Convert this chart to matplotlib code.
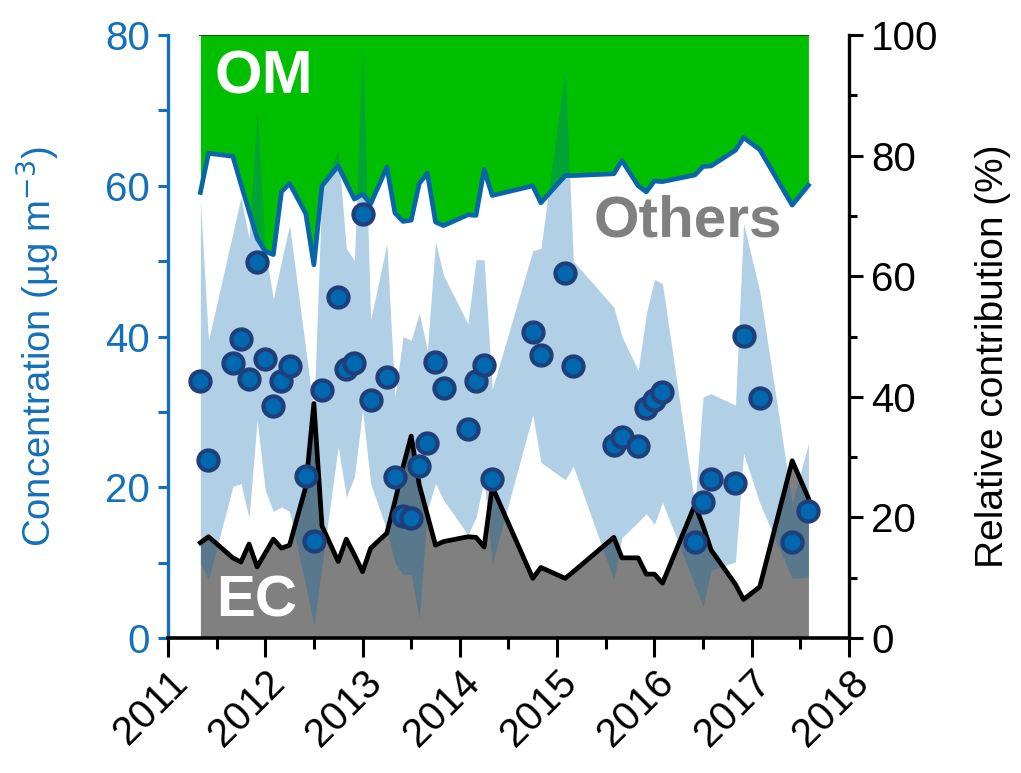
import matplotlib
matplotlib.use("Agg")
import matplotlib.pyplot as plt
from matplotlib.ticker import MultipleLocator
import numpy as np

plt.rcParams['font.family'] = ['Liberation Sans', 'DejaVu Sans']

# ---------------- data ----------------
dates = ["2011-05", "2011-06", "2011-09", "2011-10", "2011-11", "2011-12",
         "2012-01", "2012-02", "2012-03", "2012-04", "2012-06", "2012-07",
         "2012-08", "2012-10", "2012-11", "2012-12", "2013-01", "2013-02",
         "2013-04", "2013-05", "2013-06", "2013-07", "2013-08", "2013-09",
         "2013-10", "2013-11", "2014-02", "2014-03", "2014-04", "2014-05",
         "2014-10", "2014-11", "2015-02", "2015-03", "2015-08", "2015-09",
         "2015-11", "2015-12", "2016-01", "2016-02", "2016-06", "2016-07",
         "2016-08", "2016-11", "2016-12", "2017-02", "2017-06", "2017-08"]

conc_mean = [34.1, 23.6, 36.5, 39.7, 34.4, 49.9, 37.0, 30.8, 34.1, 36.1, 21.5, 12.9,
             32.9, 45.2, 35.7, 36.5, 56.3, 31.6, 34.6, 21.4, 16.2, 15.9, 22.8, 25.9,
             36.6, 33.2, 27.7, 34.1, 36.2, 21.1, 40.6, 37.5, 48.4, 36.1, 25.6, 26.7,
             25.5, 30.5, 31.6, 32.6, 12.7, 18.0, 21.1, 20.6, 40.1, 31.8, 12.7, 16.8]

conc_max = [58.0, 39.5, 53.7, 58.5, 53.0, 70.0, 51.5, 45.0, 50.0, 54.8, 38.3, 30.0,
            59.9, 64.7, 51.7, 50.1, 79.3, 42.2, 52.3, 32.0, 40.0, 39.5, 43.1, 38.2,
            52.6, 48.1, 41.7, 50.2, 50.2, 33.0, 51.4, 51.7, 75.5, 50.0, 43.9, 40.0,
            35.5, 43.0, 47.6, 47.0, 17.6, 32.0, 32.4, 30.9, 55.0, 46.0, 17.9, 25.8]

conc_min = [10.0, 7.7, 20.1, 20.5, 15.9, 28.9, 19.6, 16.8, 17.4, 16.8, 6.9, 1.7,
            9.6, 25.4, 18.7, 21.4, 30.2, 20.5, 14.3, 10.0, 8.4, 8.4, 2.5, 17.0,
            20.5, 18.3, 13.7, 16.0, 21.0, 9.8, 29.6, 23.3, 21.0, 22.8, 7.7, 13.3,
            15.4, 16.5, 15.1, 18.0, 7.0, 4.2, 9.0, 10.1, 24.5, 17.9, 7.9, 8.1]

ec_pct = [15.8, 16.8, 13.3, 12.6, 15.6, 11.8, 14.1, 16.4, 14.9, 15.4, 25.1, 38.9,
          18.6, 12.7, 16.4, 13.8, 11.0, 14.9, 17.4, 22.7, 28.4, 33.5, 25.4, 20.4,
          15.4, 16.0, 16.8, 16.7, 15.1, 25.1, 9.9, 11.7, 9.9, 11.0, 16.7, 13.3,
          13.3, 10.6, 10.6, 9.1, 22.1, 18.6, 14.6, 8.9, 6.4, 8.5, 29.4, 23.2]

om_pct = [26.1, 19.6, 20.1, 24.7, 29.2, 33.7, 35.9, 36.4, 26.0, 24.6, 29.6, 38.1,
          25.0, 21.7, 24.5, 27.2, 26.4, 28.0, 21.9, 29.5, 30.9, 30.7, 24.6, 22.9,
          31.0, 31.6, 29.8, 29.9, 22.3, 26.6, 25.0, 27.8, 23.3, 23.3, 23.0, 20.8,
          25.0, 26.0, 24.2, 24.3, 23.2, 21.8, 21.7, 19.1, 17.0, 19.0, 28.2, 24.9]

year_ticks = [2011, 2012, 2013, 2014, 2015, 2016, 2017, 2018]

# ---------------- derived ----------------
x = np.array([int(d[:4]) + (int(d[5:]) - 1) / 12.0 for d in dates])
ec = np.array(ec_pct)
om = np.array(om_pct)
others_top = 100.0 - om          # upper edge of EC + Others

# ---------------- style ----------------
BLUE_AX = '#1470b8'
GREEN = '#00bf00'
GRAY = '#808080'
BAND = '#0066aa'
LINE_BLUE = '#0866a8'
DOT_FACE = '#0068ae'
DOT_EDGE = '#1f3f7a'
FS = 29

fig = plt.figure(figsize=(10.21, 7.73), dpi=100)
ax = fig.add_axes([0.1645, 0.1746, 0.667, 0.780])
ax2 = ax.twinx()
ax.set_zorder(ax2.get_zorder() + 1)
ax.patch.set_visible(False)

# relative contributions (right axis)
ax2.fill_between(x, 0, ec, color=GRAY, lw=0)
ax2.fill_between(x, others_top, 100, color=GREEN, lw=0)
ax2.plot([x[0], x[-1]], [100, 100], color='#006400', lw=1.5)

# concentration range band (left axis)
ax.fill_between(x, conc_min, conc_max, color=BAND, alpha=0.3, lw=0)

# boundary lines drawn through the right-axis scale, above the band
ax.plot(x, ec, color='black', lw=3.4, transform=ax2.transData, zorder=3)
ax.plot(x, others_top, color=LINE_BLUE, lw=3.4, transform=ax2.transData, zorder=3)

# mean concentrations
ax.plot(x, conc_mean, 'o', ms=14.5, mfc=DOT_FACE, mec=DOT_EDGE, mew=3.0, zorder=5)

# labels inside
ax.text(2011.48, 74.3, 'OM', color='white', fontsize=44, fontweight='bold',
        ha='left', va='center', zorder=6)
ax.text(2016.34, 55.3, 'Others', color=GRAY, fontsize=42, fontweight='bold',
        ha='center', va='center', zorder=6)
ax.text(2011.91, 4.9, 'EC', color='white', fontsize=42, fontweight='bold',
        ha='center', va='center', zorder=6)

# axes limits and ticks
ax.set_xlim(2011, 2018)
ax.set_ylim(0, 80)
ax2.set_ylim(0, 100)

ax.set_xticks(year_ticks)
ax.set_xticklabels([str(y) for y in year_ticks], rotation=45, ha='right',
                   rotation_mode='anchor', fontsize=FS)
ax.xaxis.set_minor_locator(MultipleLocator(0.5))
ax.set_yticks([0, 20, 40, 60, 80])
ax.yaxis.set_minor_locator(MultipleLocator(10))
ax2.set_yticks([0, 20, 40, 60, 80, 100])
ax2.yaxis.set_minor_locator(MultipleLocator(10))

ax.tick_params(axis='x', which='major', direction='out', length=14, width=2.2,
               colors='black', labelsize=FS, pad=4)
ax.tick_params(axis='x', which='minor', direction='out', length=8, width=2.2,
               colors='black')
ax.tick_params(axis='y', which='both', direction='out', length=7, width=2.2,
               colors=BLUE_AX, labelsize=FS, pad=6)
ax2.tick_params(axis='y', which='major', direction='out', length=10, width=2.2,
                colors='black', labelsize=FS, pad=6)
ax2.tick_params(axis='y', which='minor', direction='out', length=6, width=2.2,
                colors='black')

for a in (ax, ax2):
    a.spines['top'].set_visible(False)
ax.spines['left'].set_color(BLUE_AX)
ax.spines['left'].set_linewidth(2.4)
ax.spines['right'].set_visible(False)
ax.spines['bottom'].set_linewidth(2.6)
ax.spines['bottom'].set_color('black')
ax2.spines['left'].set_visible(False)
ax2.spines['bottom'].set_visible(False)
ax2.spines['right'].set_linewidth(2.4)
ax2.spines['right'].set_color('black')

ax.set_ylabel('Concentration (\u00b5g m$^{-3}$)', color=BLUE_AX, fontsize=27.5)
ax2.set_ylabel('Relative contribution (%)', color='black', fontsize=28)
ax.yaxis.label.set_va('center')
ax2.yaxis.label.set_va('center')
ax.yaxis.set_label_coords(-0.19, 0.483)
ax2.yaxis.set_label_coords(1.212, 0.468)

fig.savefig('out.png', dpi=100)
